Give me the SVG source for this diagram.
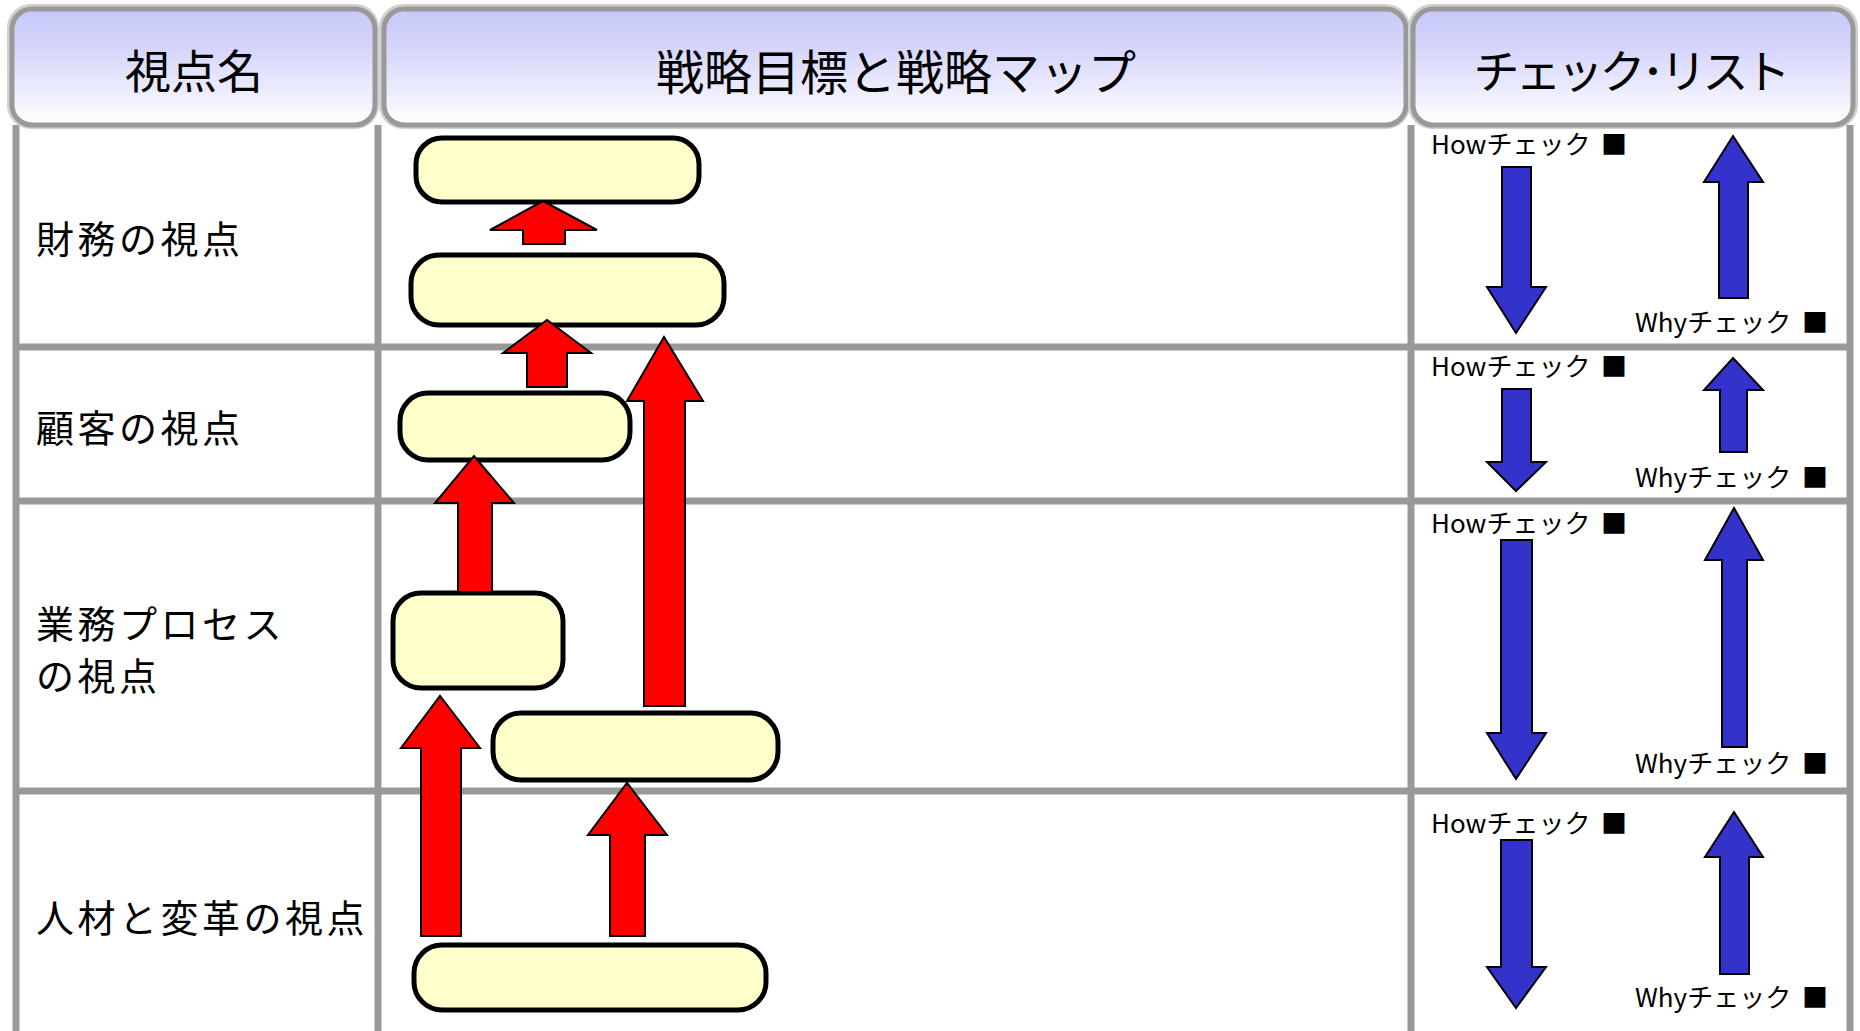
<svg xmlns="http://www.w3.org/2000/svg" width="1860" height="1031" viewBox="0 0 1860 1031">
<style>
text{font-family:"Noto Sans CJK JP","Noto Sans",sans-serif;fill:#000}
.hdr{fill:url(#hg);stroke:#999;stroke-width:5}
.hsh{fill:none;stroke:#d0d0d0;stroke-width:4}
.ht{font-size:46px;text-anchor:middle}
.grid line{stroke:#999;stroke-width:7}
.rl{font-size:38px;letter-spacing:3.5px}
.obj{fill:#ffffcc;stroke:#000;stroke-width:5}
.ra{fill:#ff0000;stroke:#000;stroke-width:2}
.ba{fill:#3333cc;stroke:#000;stroke-width:2}
.ck{font-size:26px}
</style>
<defs>
<linearGradient id="hg" x1="0" y1="0" x2="0" y2="1">
<stop offset="0" stop-color="#c8c8fa"/>
<stop offset="0.35" stop-color="#d6d6fb"/>
<stop offset="1" stop-color="#ffffff"/>
</linearGradient>
</defs>
<rect width="1860" height="1031" fill="#fff"/>
<g class="grid">
<line x1="16" y1="125" x2="16" y2="1031"/>
<line x1="378" y1="125" x2="378" y2="1031"/>
<line x1="1411" y1="125" x2="1411" y2="1031"/>
<line x1="1850" y1="125" x2="1850" y2="1031"/>
<line x1="13" y1="347" x2="1853" y2="347"/>
<line x1="13" y1="501" x2="1853" y2="501"/>
<line x1="13" y1="791" x2="1853" y2="791"/>
</g>
<g id="h1">
<rect class="hsh" x="9" y="6" width="368" height="121" rx="22"/>
<rect class="hdr" x="12" y="9" width="363" height="116" rx="20"/>
<text class="ht" x="194" y="88">視点名</text>
</g>
<g id="h2">
<rect class="hsh" x="381" y="6" width="1027" height="121" rx="22"/>
<rect class="hdr" x="384" y="9" width="1022" height="116" rx="20"/>
<text class="ht" x="896" y="90" style="font-size:48px">戦略目標と戦略マップ</text>
</g>
<g id="h3">
<rect class="hsh" x="1410" y="6" width="446" height="121" rx="22"/>
<rect class="hdr" x="1413" y="9" width="440" height="116" rx="20"/>
<text class="ht" x="1632" y="88" textLength="317" lengthAdjust="spacing">チェック･リスト</text>
</g>
<g id="labels">
<text class="rl" x="36" y="253">財務の視点</text>
<text class="rl" x="36" y="442">顧客の視点</text>
<text class="rl" x="36" y="638">業務プロセス</text>
<text class="rl" x="36" y="690">の視点</text>
<text class="rl" x="36" y="932">人材と変革の視点</text>
</g>
<g id="obj1"><rect class="obj" x="416" y="138" width="283" height="64" rx="26"/></g>
<g id="obj2"><rect class="obj" x="411" y="255" width="313" height="70" rx="28"/></g>
<g id="obj3"><rect class="obj" x="400" y="393" width="230" height="67" rx="28"/></g>
<g id="obj4"><rect class="obj" x="393" y="593" width="170" height="95" rx="28"/></g>
<g id="obj5"><rect class="obj" x="493" y="713" width="285" height="67" rx="28"/></g>
<g id="obj6"><rect class="obj" x="414" y="945" width="352" height="65" rx="28"/></g>
<g id="connectors">
<polygon class="ra" points="523,244 523,230 490,230 543,201 597,230 565,230 565,244"/>
<polygon class="ra" points="527,387 527,353 503,353 547,320 591,353 567,353 567,387"/>
<polygon class="ra" points="644,706 644,401 627,401 664,337 703,401 685,401 685,706"/>
<polygon class="ra" points="458,592 458,503 435,503 474,456 514,503 492,503 492,592"/>
<polygon class="ra" points="421,936 421,748 401,748 440,696 480,748 461,748 461,936"/>
<polygon class="ra" points="610,936 610,835 588,835 627,783 667,835 645,835 645,936"/>
</g>
<g id="checks">
<polygon class="ba" points="1502,167 1531,167 1531,287 1546,287 1516,333 1487,287 1502,287"/>
<polygon class="ba" points="1719,298 1719,182 1704,182 1733,136 1763,182 1748,182 1748,298"/>
<polygon class="ba" points="1502,389 1531,389 1531,462 1546,462 1516,491 1487,462 1502,462"/>
<polygon class="ba" points="1720,452 1720,390 1704,390 1733,358 1763,390 1747,390 1747,452"/>
<polygon class="ba" points="1501,540 1532,540 1532,733 1546,733 1516,779 1487,733 1501,733"/>
<polygon class="ba" points="1722,747 1722,560 1705,560 1734,508 1763,560 1747,560 1747,747"/>
<polygon class="ba" points="1501,840 1532,840 1532,967 1546,967 1516,1008 1487,967 1501,967"/>
<polygon class="ba" points="1720,974 1720,857 1705,857 1734,812 1763,857 1749,857 1749,974"/>
<text class="ck" x="1431" y="154">Howチェック<tspan x="1601">■</tspan></text>
<text class="ck" x="1635" y="332">Whyチェック<tspan x="1802">■</tspan></text>
<text class="ck" x="1431" y="376">Howチェック<tspan x="1601">■</tspan></text>
<text class="ck" x="1635" y="487">Whyチェック<tspan x="1802">■</tspan></text>
<text class="ck" x="1431" y="533">Howチェック<tspan x="1601">■</tspan></text>
<text class="ck" x="1635" y="773">Whyチェック<tspan x="1802">■</tspan></text>
<text class="ck" x="1431" y="833">Howチェック<tspan x="1601">■</tspan></text>
<text class="ck" x="1635" y="1007">Whyチェック<tspan x="1802">■</tspan></text>
</g>
</svg>
